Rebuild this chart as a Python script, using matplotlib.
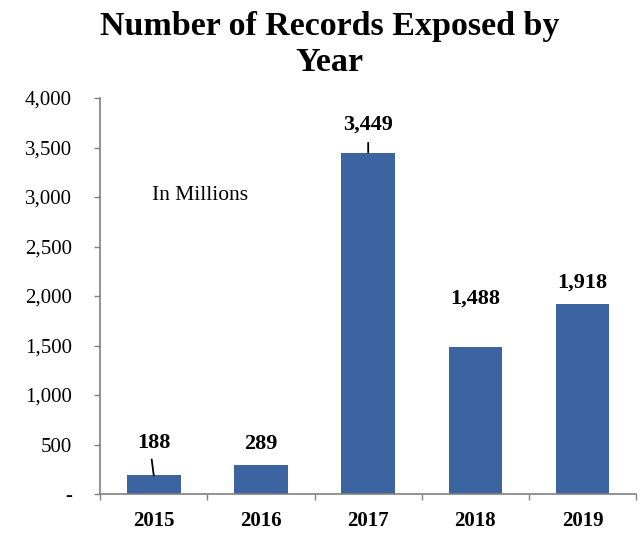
import matplotlib.pyplot as plt
from matplotlib.ticker import FuncFormatter, MultipleLocator, FixedLocator

years = ["2015", "2016", "2017", "2018", "2019"]
records = [188, 289, 3449, 1488, 1918]

# label offsets above each bar (points); leader lines drawn as (dx, dy) in points
label_offsets = [16, 8.5, 13, 27.5, 8.5]
leaders = {0: (-1.5, 11.5), 2: (0, 7)}

plt.rcParams['font.family'] = ['Liberation Serif', 'DejaVu Serif']

fig = plt.figure(figsize=(6.42, 5.35), dpi=100)
ax = fig.add_axes([0.156, 0.0766, 0.835, 0.7402])

x = list(range(len(years)))
ax.bar(x, records, width=0.5, color='#3B64A0', zorder=2)

ax.set_xlim(-0.5, len(years) - 0.5)
ax.set_ylim(0, 4000)

ax.yaxis.set_major_locator(MultipleLocator(500))
ax.yaxis.set_major_formatter(FuncFormatter(lambda v, p: '-' if v == 0 else f'{v:,.0f}'))
ax.tick_params(axis='y', direction='out', length=4.5, width=1, color='#808080',
               labelsize=15, pad=16)

ax.set_xticks(x)
ax.set_xticklabels(years, fontsize=15, fontweight='bold')
ax.xaxis.set_minor_locator(FixedLocator([i - 0.5 for i in range(len(years) + 1)]))
ax.tick_params(axis='x', which='major', length=0, pad=12)
ax.tick_params(axis='x', which='minor', direction='out', length=4.5, width=1, color='#808080')

for s in ['top', 'right']:
    ax.spines[s].set_visible(False)
for s in ['left', 'bottom']:
    ax.spines[s].set_color('#808080')
    ax.spines[s].set_linewidth(1.2)

for i, (xi, val, off) in enumerate(zip(x, records, label_offsets)):
    ax.annotate(f'{val:,}', xy=(xi, val), xytext=(0, off), textcoords='offset points',
                ha='center', va='bottom', fontsize=16, fontweight='bold')
    if i in leaders:
        ax.annotate('', xy=(xi, val), xytext=leaders[i], textcoords='offset points',
                    arrowprops=dict(arrowstyle='-', color='black', lw=1.3,
                                    shrinkA=0, shrinkB=0))

ax.text(0.43, 3020, 'In Millions', fontsize=15.5, ha='center', va='center')

fig.suptitle('Number of Records Exposed by\nYear', fontsize=24.5, fontweight='bold',
             x=0.513, y=0.98, va='top', linespacing=1.2)

fig.savefig('out.png', dpi=100)
